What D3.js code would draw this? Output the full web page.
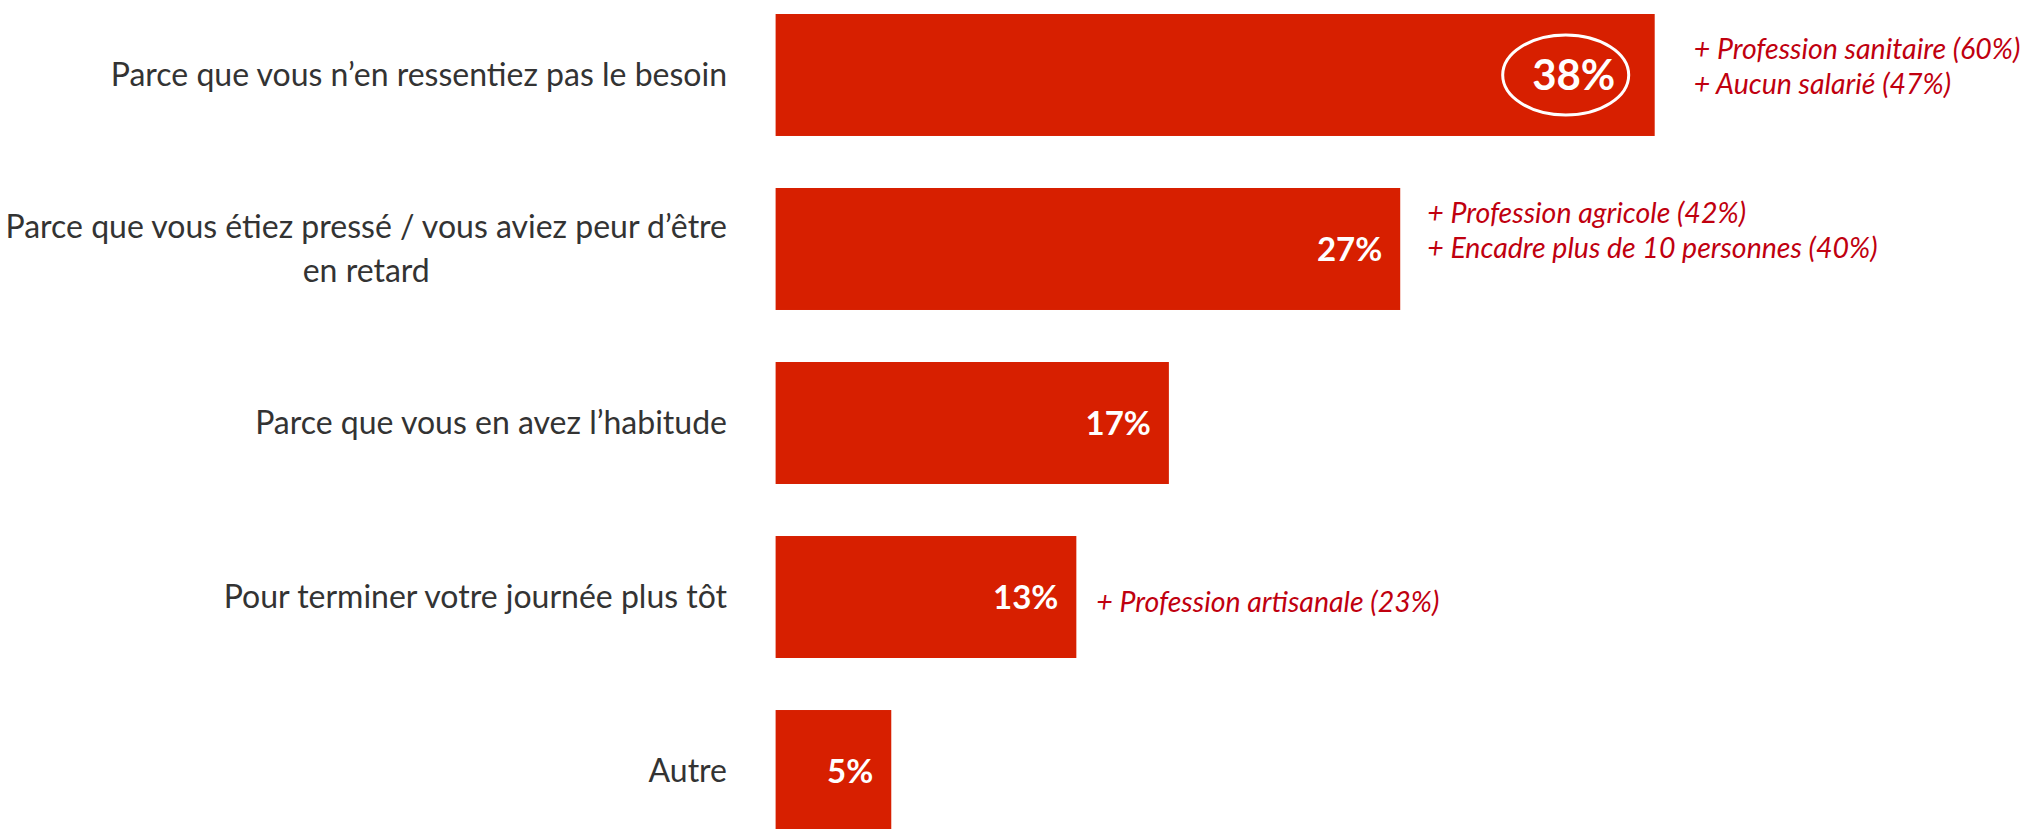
<!DOCTYPE html>
<html><head><meta charset="utf-8">
<script src="https://cdn.jsdelivr.net/npm/d3@7"></script>
<style>
html,body{margin:0;padding:0;background:#fff;}
svg{display:block;}
</style></head>
<body>
<svg id="chart" width="2027" height="829"></svg>
<script>
const categories = [
  "Parce que vous n’en ressentiez pas le besoin",
  "Parce que vous étiez pressé / vous aviez peur d’être\nen retard",
  "Parce que vous en avez l’habitude",
  "Pour terminer votre journée plus tôt",
  "Autre"
];
const values = [38, 27, 17, 13, 5];
const valueLabels = ["38%", "27%", "17%", "13%", "5%"];
const annotations = [
  ["+ Profession sanitaire (60%)", "+ Aucun salarié (47%)"],
  ["+ Profession agricole (42%)", "+ Encadre plus de 10 personnes (40%)"],
  [],
  ["+ Profession artisanale (23%)"],
  []
];
const highlighted = [true, false, false, false, false];

// layout
const annGap = [39, 27, 0, 20, 0];
const annDy = [-26, -36, 0, 5, 0];
const annLineH = 35;

const svg = d3.select("#chart");
const barColor = "#D71F00";
const annColor = "#C0000F";
const labelColor = "#333333";
const font = "Lato, 'Open Sans', sans-serif";

const x = d3.scaleLinear().domain([0, 38]).range([775.6, 1654.7]);
const y = d3.scaleBand().domain(d3.range(categories.length)).range([14, 832]).paddingInner(0.299).paddingOuter(0);

const data = categories.map((c, i) => ({c, v: values[i], l: valueLabels[i], a: annotations[i], h: highlighted[i], i}));

const g = svg.append("g");

g.selectAll("rect.bar").data(data).join("rect")
  .attr("class", "bar")
  .attr("x", x(0))
  .attr("y", d => y(d.i))
  .attr("width", d => x(d.v) - x(0))
  .attr("height", y.bandwidth())
  .attr("fill", barColor);

// category labels
const labelRight = 727;
const labelSize = "32px";
data.forEach(d => {
  const lines = d.c.split("\n");
  const cy = y(d.i) + y.bandwidth() / 2;
  if (lines.length === 1) {
    g.append("text")
      .attr("x", labelRight).attr("y", cy).attr("dy", "0.35em")
      .attr("text-anchor", "end")
      .style("font-family", font).style("font-size", labelSize).attr("fill", labelColor)
      .text(lines[0]);
  } else {
    const t1 = g.append("text")
      .attr("x", labelRight).attr("y", cy - 22).attr("dy", "0.35em")
      .attr("text-anchor", "end")
      .style("font-family", font).style("font-size", labelSize).attr("fill", labelColor)
      .text(lines[0]);
    const w = t1.node().getComputedTextLength();
    g.append("text")
      .attr("x", labelRight - w / 2).attr("y", cy + 22).attr("dy", "0.35em")
      .attr("text-anchor", "middle")
      .style("font-family", font).style("font-size", labelSize).attr("fill", labelColor)
      .text(lines[1]);
  }
});

// value labels
data.forEach(d => {
  const cy = y(d.i) + y.bandwidth() / 2;
  if (d.h) {
    const cx = x(d.v) - 89;
    g.append("ellipse").attr("cx", cx).attr("cy", cy)
      .attr("rx", 63).attr("ry", 40)
      .attr("fill", "none").attr("stroke", "#fff").attr("stroke-width", 3);
    g.append("text").attr("x", cx + 8).attr("y", cy).attr("dy", "0.36em")
      .attr("text-anchor", "middle")
      .style("font-family", font).style("font-size", "42px").style("font-weight", "bold")
      .attr("fill", "#fff").text(d.l);
  } else {
    g.append("text").attr("x", x(d.v) - 18).attr("y", cy).attr("dy", "0.36em")
      .attr("text-anchor", "end")
      .style("font-family", font).style("font-size", "33px").style("font-weight", "bold")
      .attr("fill", "#fff").text(d.l);
  }
});

// annotations
data.forEach(d => {
  if (!d.a.length) return;
  const cy = y(d.i) + y.bandwidth() / 2;
  d.a.forEach((line, k) => {
    g.append("text")
      .attr("x", x(d.v) + annGap[d.i])
      .attr("y", cy + annDy[d.i] + k * annLineH)
      .attr("dy", "0.35em")
      .style("font-family", font).style("font-size", "28.5px").style("font-style", "italic")
      .attr("fill", annColor).text(line);
  });
});
</script>
</body></html>
